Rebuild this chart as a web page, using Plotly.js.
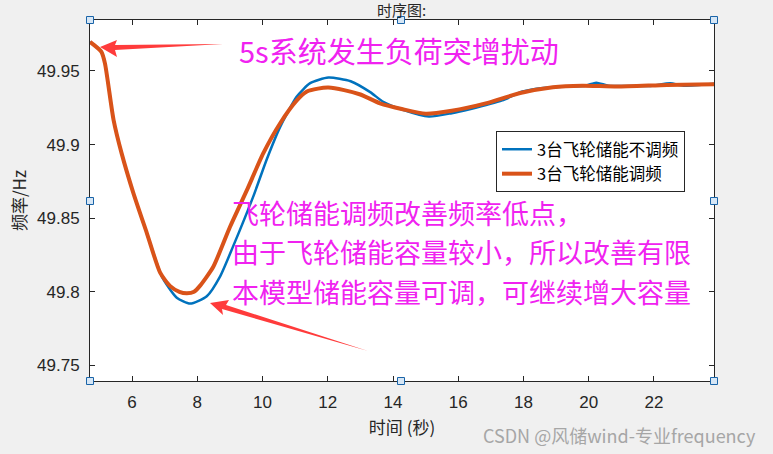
<!DOCTYPE html>
<html>
<head>
<meta charset="utf-8">
<script src="https://cdn.plot.ly/plotly-3.0.1.min.js"></script>
<style>html,body{margin:0;padding:0;background:#f0f0f0;}#chart{width:773px;height:454px;}</style>
</head>
<body>
<div id="chart"></div>
<script>
// Series: 3 flywheels, no frequency regulation (blue)
const tBlue = [4.71, 5.06, 5.17, 5.43, 5.68, 6.04, 6.45, 6.91, 7.37, 7.78, 8.29, 8.70, 9.1, 9.72, 10.13, 10.54, 11.05, 11.46, 12.02, 12.7, 13.3, 13.7, 14.3, 15.1, 15.8, 16.35, 17.35, 17.97, 18.6, 19.3, 19.9, 20.23, 20.6, 21.2, 21.9, 22.5, 22.9, 23.84];
const fBlue = [49.9697, 49.963, 49.955, 49.917, 49.894, 49.867, 49.840, 49.8105, 49.796, 49.792, 49.797, 49.8105, 49.831, 49.865, 49.890, 49.912, 49.9326, 49.9417, 49.9455, 49.943, 49.9356, 49.929, 49.9236, 49.919, 49.9213, 49.924, 49.930, 49.936, 49.9385, 49.9395, 49.940, 49.942, 49.940, 49.9398, 49.9398, 49.9416, 49.940, 49.9413];
// Series: 3 flywheels, with frequency regulation (orange)
const tOrange = [4.71, 5.06, 5.17, 5.43, 5.68, 6.04, 6.45, 6.86, 7.16, 7.45, 7.68, 7.9, 8.08, 8.49, 9.0, 9.52, 10.02, 10.54, 11.05, 11.36, 11.7, 12.02, 12.5, 13.0, 13.6, 14.3, 15.0, 15.8, 16.84, 17.9, 18.9, 19.8, 20.87, 22.4, 23.84];
const fOrange = [49.9697, 49.963, 49.955, 49.917, 49.894, 49.867, 49.840, 49.813, 49.804, 49.800, 49.799, 49.800, 49.804, 49.817, 49.844, 49.869, 49.894, 49.9145, 49.930, 49.936, 49.938, 49.9387, 49.937, 49.934, 49.928, 49.924, 49.921, 49.923, 49.928, 49.935, 49.939, 49.940, 49.9394, 49.9405, 49.941];
const seriesNames = ['3台飞轮储能不调频', '3台飞轮储能调频'];
const xTicks = [6, 8, 10, 12, 14, 16, 18, 20, 22];
const yTicks = [49.75, 49.8, 49.85, 49.9, 49.95];
const yTickLabels = ['49.75', '49.8', '49.85', '49.9', '49.95'];

// layout helpers (pixel -> paper)
const L = 90, R = 714, T = 20, B = 381;
const px = x => (x - L) / (R - L);
const py = y => (B - y) / (B - T);

const axColor = '#262626';
const tickFont = {family: 'Liberation Sans, Arial, sans-serif', size: 17, color: axColor};

const traces = [
  {x: tBlue, y: fBlue, name: seriesNames[0], type: 'scatter', mode: 'lines',
   line: {color: '#0072BD', width: 2.5, shape: 'spline', smoothing: 0.6}},
  {x: tOrange, y: fOrange, name: seriesNames[1], type: 'scatter', mode: 'lines',
   line: {color: '#D95319', width: 4, shape: 'spline', smoothing: 0.6}}
];

const handles = [[L,T],[401,T],[R,T],[L,201],[R,201],[L,B],[401,B],[R,B]].map(([x,y]) => ({
  type: 'rect', xref: 'paper', yref: 'paper', xsizemode: 'pixel', ysizemode: 'pixel',
  xanchor: px(x), yanchor: py(y), x0: -3.5, x1: 3.5, y0: -3.5, y1: 3.5,
  fillcolor: '#d6e6f5', line: {color: '#1a64a8', width: 1}, layer: 'above'
}));

function arrowPath(pts) {
  return 'M ' + pts.map(p => px(p[0]) + ',' + py(p[1])).join(' L ') + ' Z';
}
const arrows = [
  arrowPath([[100,47],[117,40],[115,45],[223,44],[115,50],[117,57]]),
  arrowPath([[210,303],[229,300],[226,305],[368,351],[222,309],[223,315]])
].map(p => ({type: 'path', xref: 'paper', yref: 'paper', path: p,
  fillcolor: '#ff3b3b', line: {width: 0}, layer: 'above'}));

const magenta = '#f022f0';
const annFont = {family: 'Noto Sans CJK SC, sans-serif', size: 29, color: magenta};
const noteFont = {family: 'Noto Sans CJK SC, sans-serif', size: 27, color: magenta};
const noteLines = ['飞轮储能调频改善频率低点，', '由于飞轮储能容量较小，所以改善有限', '本模型储能容量可调，可继续增大容量'];
const noteY = [212, 251.5, 291];
const annotations = [
  {text: '时序图:', xref: 'paper', yref: 'paper', x: px(401), y: py(9), xanchor: 'center', yanchor: 'middle',
   showarrow: false, font: {family: 'Noto Sans CJK SC, serif', size: 15, color: axColor}},
  {text: '5s系统发生负荷突增扰动', xref: 'paper', yref: 'paper', x: px(237), y: py(50), xanchor: 'left', yanchor: 'middle', showarrow: false, font: annFont},
  {text: 'CSDN @风储wind-专业frequency', xref: 'paper', yref: 'paper', x: px(758), y: py(435), xanchor: 'right', yanchor: 'middle', showarrow: false,
   font: {family: 'Noto Sans CJK SC, sans-serif', size: 18, color: '#a6a6a6'}}
].concat(noteLines.map((t, i) => ({text: t, xref: 'paper', yref: 'paper', x: px(230), y: py(noteY[i]),
   xanchor: 'left', yanchor: 'middle', showarrow: false, font: noteFont})));

const layout = {
  width: 773, height: 454,
  margin: {l: L, r: 773 - R, t: T, b: 454 - B, pad: 0},
  paper_bgcolor: '#f0f0f0', plot_bgcolor: '#ffffff',
  showlegend: true,
  legend: {x: px(496), y: py(131), xanchor: 'left', yanchor: 'top', bgcolor: '#ffffff',
    bordercolor: axColor, borderwidth: 1, tracegroupgap: 0,
    font: {family: 'Noto Sans CJK SC, sans-serif', size: 16.5, color: '#000000'}},
  xaxis: {range: [4.71, 23.84], tickvals: xTicks, ticktext: xTicks.map(String), ticks: 'inside', ticklen: 5,
    tickcolor: axColor, showline: true, linecolor: axColor, linewidth: 1, mirror: 'ticks', showgrid: false, zeroline: false,
    tickfont: tickFont, ticklabelstandoff: 6,
    title: {text: '时间 (秒)', font: {family: 'Noto Sans CJK SC, sans-serif', size: 17, color: axColor}, standoff: 10}},
  yaxis: {range: [49.7394, 49.9846], tickvals: yTicks, ticktext: yTickLabels, ticks: 'inside', ticklen: 5,
    tickcolor: axColor, showline: true, linecolor: axColor, linewidth: 1, mirror: 'ticks', showgrid: false, zeroline: false,
    tickfont: tickFont, ticklabelstandoff: 6,
    title: {text: '频率/Hz', font: {family: 'Noto Sans CJK SC, sans-serif', size: 17, color: axColor}, standoff: 6}},
  shapes: arrows.concat(handles),
  annotations: annotations
};

Plotly.newPlot('chart', traces, layout, {displayModeBar: false, staticPlot: true});
</script>
</body>
</html>
